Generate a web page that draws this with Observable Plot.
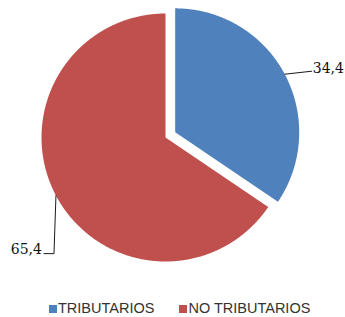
<!DOCTYPE html>
<html>
<head>
<meta charset="utf-8">
<script src="https://cdn.jsdelivr.net/npm/d3@7"></script>
<script src="https://cdn.jsdelivr.net/npm/@observablehq/plot@0.6"></script>
<style>
  html, body { margin: 0; padding: 0; background: #fff; }
  #chart { width: 345px; height: 317px; position: relative; overflow: hidden; }
  .legend { display: flex; align-items: center; height: 19px; padding-left: 49px;
            font-family: "Liberation Sans", Arial, sans-serif; font-size: 14.5px; color: #333; }
  .legend .item { display: flex; align-items: center; margin-right: 25px; }
  .legend .sw { width: 8px; height: 8px; margin-right: 1px; margin-top: 2px; }
</style>
</head>
<body>
<div id="chart"></div>
<script>
// ---- data ----
const categories = ["TRIBUTARIOS", "NO TRIBUTARIOS"];
const values = [34.4, 65.4];
const colors = ["#4F81BD", "#C0504D"];

// ---- layout (pixels) ----
const W = 345, H = 298;
const R = 124, CX = 165, CY = 137;     // pie radius and centre
const explode = [11, 0];               // explosion distance per slice
const leaders = [                      // leader-line offsets from slice mid-arc point
  { pts: [[0, 0], [27, -3]], anchor: "start", dx: 1, dy: -3 },
  { pts: [[0, 0], [-2, 58], [-12, 58]], anchor: "end", dx: -2, dy: -4 }
];

const u = (p) => p / R; // px -> unit
const total = d3.sum(values);
let acc = 0;
const slices = values.map((v, i) => {
  const a0 = acc / total * 2 * Math.PI;
  acc += v;
  const a1 = acc / total * 2 * Math.PI;
  const mid = (a0 + a1) / 2;
  const ox = u(explode[i]) * Math.sin(mid), oy = u(explode[i]) * Math.cos(mid);
  return { cat: categories[i], value: v, a0, a1, mid, ox, oy, i };
});

const slicePts = [];
for (const s of slices) {
  slicePts.push({ cat: s.cat, x: s.ox, y: s.oy });
  const n = Math.ceil((s.a1 - s.a0) / (Math.PI / 360));
  for (let k = 0; k <= n; k++) {
    const a = s.a0 + (s.a1 - s.a0) * k / n;
    slicePts.push({ cat: s.cat, x: s.ox + Math.sin(a), y: s.oy + Math.cos(a) });
  }
  slicePts.push({ cat: s.cat, x: s.ox, y: s.oy });
}

const leaderPts = [];
const labels = [];
for (const s of slices) {
  const L = leaders[s.i];
  const px = s.ox + Math.sin(s.mid), py = s.oy + Math.cos(s.mid);
  L.pts.forEach(([dx, dy]) => leaderPts.push({ cat: s.cat, x: px + u(dx), y: py - u(dy) }));
  const end = L.pts[L.pts.length - 1];
  labels.push({
    cat: s.cat,
    text: s.value.toFixed(1).replace(".", ","),
    x: px + u(end[0] + L.dx), y: py - u(end[1] + L.dy), anchor: L.anchor
  });
}

const plot = Plot.plot({
  width: W, height: H,
  margin: 0,
  x: { domain: [-CX / R, (W - CX) / R], axis: null },
  y: { domain: [-(H - CY) / R, CY / R], axis: null },
  color: { domain: categories, range: colors },
  style: { background: "#fff", overflow: "visible" },
  marks: [
    Plot.line(slicePts, { x: "x", y: "y", z: "cat", fill: "cat", stroke: "none" }),
    Plot.line(leaderPts, { x: "x", y: "y", z: "cat", stroke: "#1a1a1a", strokeWidth: 1 }),
    Plot.text(labels.filter(d => d.anchor === "start"), { x: "x", y: "y", text: "text", textAnchor: "start",
      fontFamily: "DejaVu Serif", fontSize: 14, fill: "#111" }),
    Plot.text(labels.filter(d => d.anchor === "end"), { x: "x", y: "y", text: "text", textAnchor: "end",
      fontFamily: "DejaVu Serif", fontSize: 14, fill: "#111" })
  ]
});

const root = document.getElementById("chart");
root.appendChild(plot);

const legend = document.createElement("div");
legend.className = "legend";
categories.forEach((c, i) => {
  const item = document.createElement("div");
  item.className = "item";
  const sw = document.createElement("span");
  sw.className = "sw";
  sw.style.background = colors[i];
  const t = document.createElement("span");
  t.textContent = c;
  item.appendChild(sw);
  item.appendChild(t);
  legend.appendChild(item);
});
root.appendChild(legend);
</script>
</body>
</html>
